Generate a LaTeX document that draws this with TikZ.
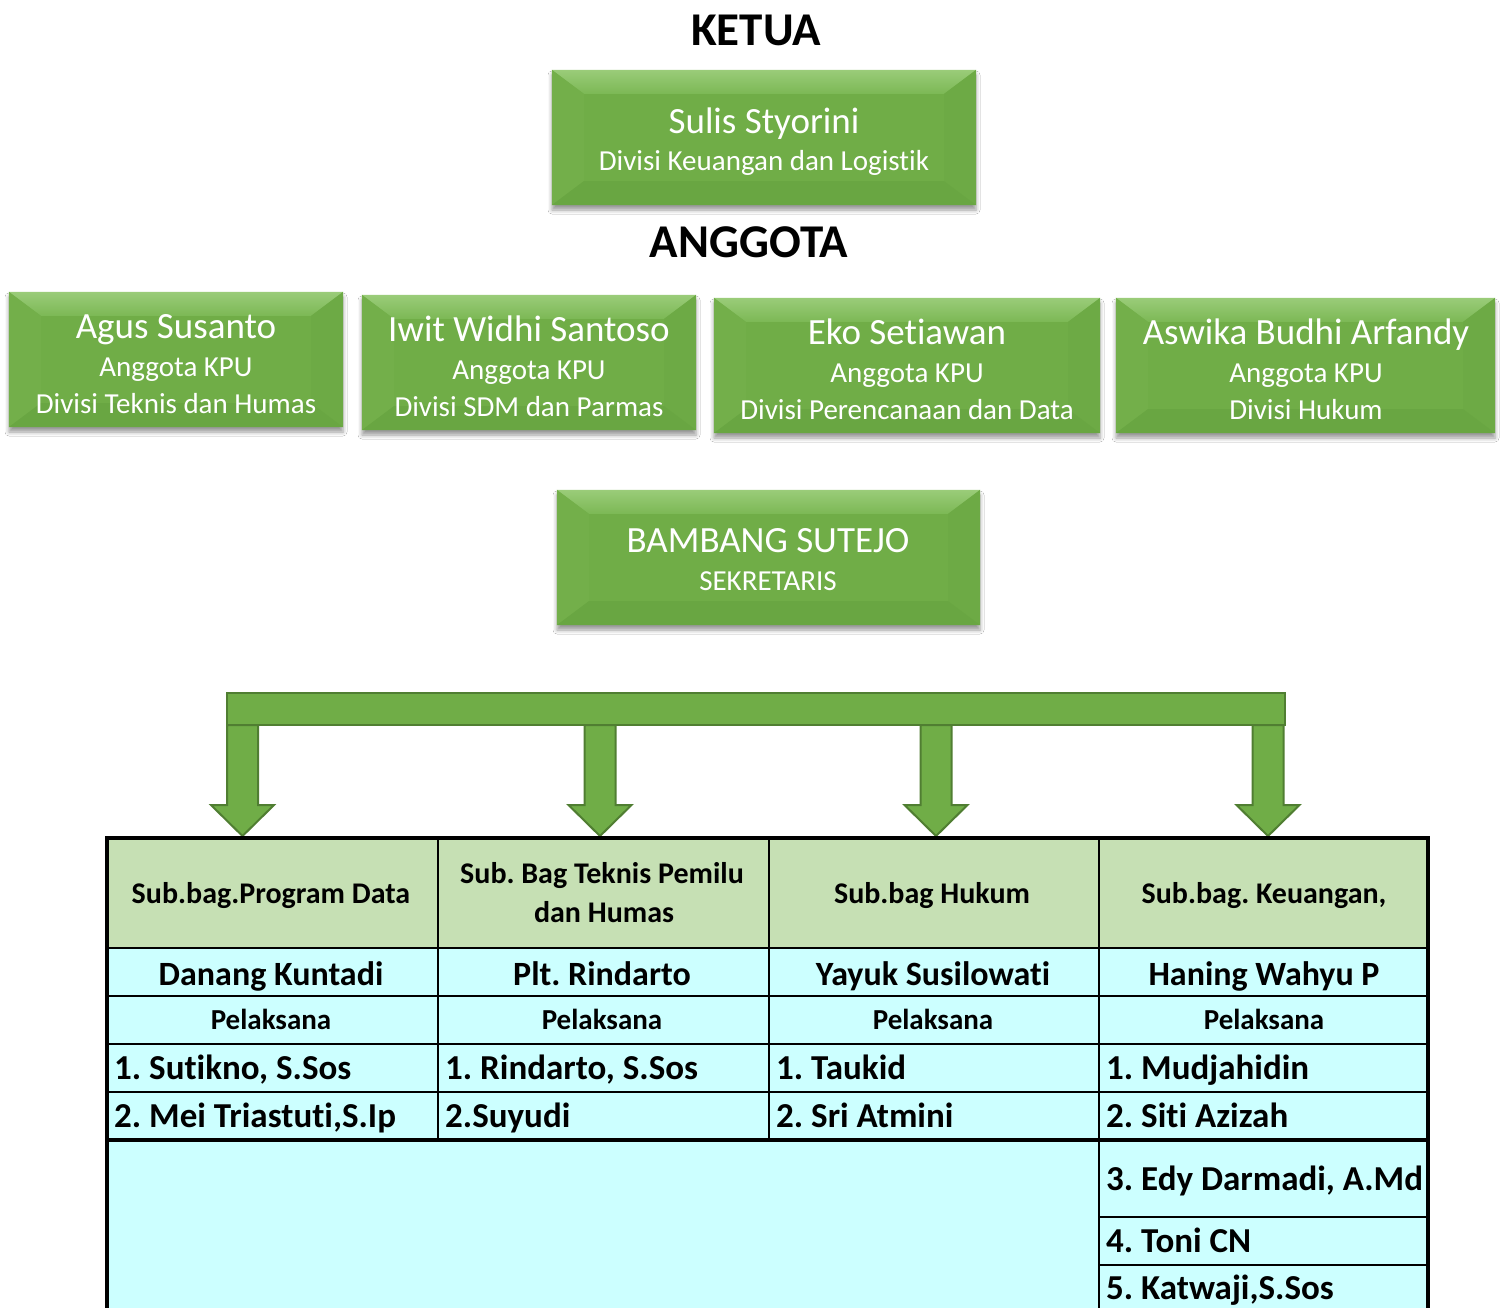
\documentclass[tikz,border=0pt]{standalone}
\usepackage{fontspec}
\setmainfont{Carlito}[Ligatures=NoCommon]
\frenchspacing
\usetikzlibrary{calc,fit,shadows.blur}
\definecolor{gface}{HTML}{70AD47}
\definecolor{gtopa}{HTML}{9ACC79}
\definecolor{gtopb}{HTML}{7CB855}
\definecolor{gleft}{HTML}{73AF4A}
\definecolor{gright}{HTML}{6DAA45}
\definecolor{gbot}{HTML}{69A642}
\definecolor{gedge}{HTML}{507E32}
\definecolor{hdfill}{HTML}{C6E0B4}
\definecolor{cyfill}{HTML}{CCFFFF}
\tikzset{
  gboxstyle/.style={inner sep=0pt, fill=gface,
    blur shadow={shadow xshift=0pt, shadow yshift=-5pt, shadow blur radius=4pt, shadow opacity=40}},
  bvl/.style={draw=none},
  gname/.style={text=white, font=\fontsize{37}{40}\selectfont, anchor=base, inner sep=0pt},
  gsub/.style={text=white, font=\fontsize{29}{32}\selectfont, anchor=base, inner sep=0pt},
  ttl/.style={font=\bfseries\fontsize{47}{50}\selectfont, anchor=base, inner sep=0pt},
  arr/.style={fill=gface, draw=gedge, line width=2pt, line join=miter},
  hd/.style={font=\bfseries\fontsize{30}{33}\selectfont, anchor=base, inner sep=0pt},
  nm/.style={font=\bfseries\fontsize{34}{36}\selectfont, anchor=base, inner sep=0pt},
  pl/.style={font=\bfseries\fontsize{29}{31}\selectfont, anchor=base, inner sep=0pt},
  itm/.style={font=\bfseries\fontsize{35}{38}\selectfont, anchor=base west, inner sep=0pt},
  thin/.style={line width=2.2pt, black},
  thick/.style={line width=3.2pt, black},
}
\newcommand\gbox[5]{%
  \coordinate (#1-a) at (#2,#3);
  \coordinate (#1-b) at (#4,#5);
  \node[gboxstyle, fit=(#1-a)(#1-b)] (#1) {};
  \shade[bvl, top color=gtopa, bottom color=gtopb] (#1.north west) -- (#1.north east) -- ($(#1.north east)+(-32,24)$) -- ($(#1.north west)+(32,24)$) -- cycle;
  \fill[gleft] (#1.north west) -- ($(#1.north west)+(32,24)$) -- ($(#1.south west)+(32,-24)$) -- (#1.south west) -- cycle;
  \fill[gright] (#1.north east) -- ($(#1.north east)+(-32,24)$) -- ($(#1.south east)+(-32,-24)$) -- (#1.south east) -- cycle;
  \fill[gbot] (#1.south west) -- ($(#1.south west)+(32,-24)$) -- ($(#1.south east)+(-32,-24)$) -- (#1.south east) -- cycle;
}
\begin{document}
\begin{tikzpicture}[x=1pt,y=-1pt]
\useasboundingbox (0,0) rectangle (1504,1307);
\fill[white] (0,0) rectangle (1504,1307);

% titles
\node[ttl] (ketua) at (756,45) {KETUA};
\node[ttl] (anggota) at (749,257) {ANGGOTA};

% ketua box
\gbox{bk}{552}{70}{976}{205}
\node[gname] (bk1) at (764,133) {Sulis Styorini};
\node[gsub] (bk2) at (764,170) {Divisi Keuangan dan Logistik};

% member boxes
\gbox{m1}{9}{292}{343}{427}
\node[gname] (m1a) at (176,338) {Agus Susanto};
\node[gsub] (m1b) at (176,376) {Anggota KPU};
\node[gsub] (m1c) at (176,413) {Divisi Teknis dan Humas};

\gbox{m2}{362}{295}{696}{430}
\node[gname] (m2a) at (529,341) {Iwit Widhi Santoso};
\node[gsub] (m2b) at (529,379) {Anggota KPU};
\node[gsub] (m2c) at (529,416) {Divisi SDM dan Parmas};

\gbox{m3}{714}{298}{1100}{433}
\node[gname] (m3a) at (907,344) {Eko Setiawan};
\node[gsub] (m3b) at (907,382) {Anggota KPU};
\node[gsub] (m3c) at (907,419) {Divisi Perencanaan dan Data};

\gbox{m4}{1116}{298}{1495}{433}
\node[gname] (m4a) at (1306,344) {Aswika Budhi Arfandy};
\node[gsub] (m4b) at (1306,382) {Anggota KPU};
\node[gsub] (m4c) at (1306,419) {Divisi Hukum};

% sekretaris
\gbox{sk}{557}{490}{980}{625}
\node[gname] (sk1) at (768,552) {BAMBANG SUTEJO};
\node[gsub] (sk2) at (768,590) {SEKRETARIS};

% bracket connector
\draw[arr] (227,693) rectangle (1285,725);
\foreach \cx in {242.5,600,936,1268}{
  \begin{scope}[shift={(\cx,0)}]
    \draw[arr] (-15.5,725) -- (15.5,725) -- (15.5,805) -- (31.5,805) -- (0,836) -- (-31.5,805) -- (-15.5,805) -- cycle;
  \end{scope}
}

% table fills
\fill[hdfill] (107,838) rectangle (1428,948);
\fill[cyfill] (107,948) rectangle (1428,1310);
% table lines
\draw[thin] (107,948) -- (1428,948);
\draw[thin] (107,996) -- (1428,996);
\draw[thin] (107,1044) -- (1428,1044);
\draw[thin] (107,1092) -- (1428,1092);
\draw[thick] (107,1140) -- (1428,1140);
\draw[thin] (1099,1217) -- (1428,1217);
\draw[thin] (1099,1265) -- (1428,1265);
\draw[thin] (438,838) -- (438,1140);
\draw[thin] (769,838) -- (769,1140);
\draw[thin] (1099,838) -- (1099,1310);
\draw[thick] (105.4,838) -- (1430,838);
\draw[thick] (107,838) -- (107,1310);
\draw[thick] (1428,838) -- (1428,1310);

% headers
\node[hd] (h1) at (271,903) {Sub.bag.Program Data};
\node[hd] (h2a) at (602,883) {Sub. Bag Teknis Pemilu};
\node[hd] (h2b) at (604,922) {dan Humas};
\node[hd] (h3) at (932,903) {Sub.bag Hukum};
\node[hd] (h4) at (1264,903) {Sub.bag. Keuangan,};

% names
\node[nm] (n1) at (271,985) {Danang Kuntadi};
\node[nm] (n2) at (602,985) {Plt. Rindarto};
\node[nm] (n3) at (933,985) {Yayuk Susilowati};
\node[nm] (n4) at (1264,985) {Haning Wahyu P};

% pelaksana
\node[pl] (p1) at (271,1029) {Pelaksana};
\node[pl] (p2) at (602,1029) {Pelaksana};
\node[pl] (p3) at (933,1029) {Pelaksana};
\node[pl] (p4) at (1264,1029) {Pelaksana};

% items
\node[itm] (i11) at (114,1079) {1. Sutikno, S.Sos};
\node[itm] (i12) at (114,1127) {2. Mei Triastuti,S.Ip};
\node[itm] (i21) at (445,1079) {1. Rindarto, S.Sos};
\node[itm] (i22) at (445,1127) {2.Suyudi};
\node[itm] (i31) at (776,1079) {1. Taukid};
\node[itm] (i32) at (776,1127) {2. Sri Atmini};
\node[itm] (i41) at (1106,1079) {1. Mudjahidin};
\node[itm] (i42) at (1106,1127) {2. Siti Azizah};
\node[itm] (i43) at (1106,1190) {3. Edy Darmadi, A.Md};
\node[itm] (i44) at (1106,1252) {4. Toni CN};
\node[itm] (i45) at (1106,1299) {5. Katwaji,S.Sos};
\end{tikzpicture}
\end{document}
